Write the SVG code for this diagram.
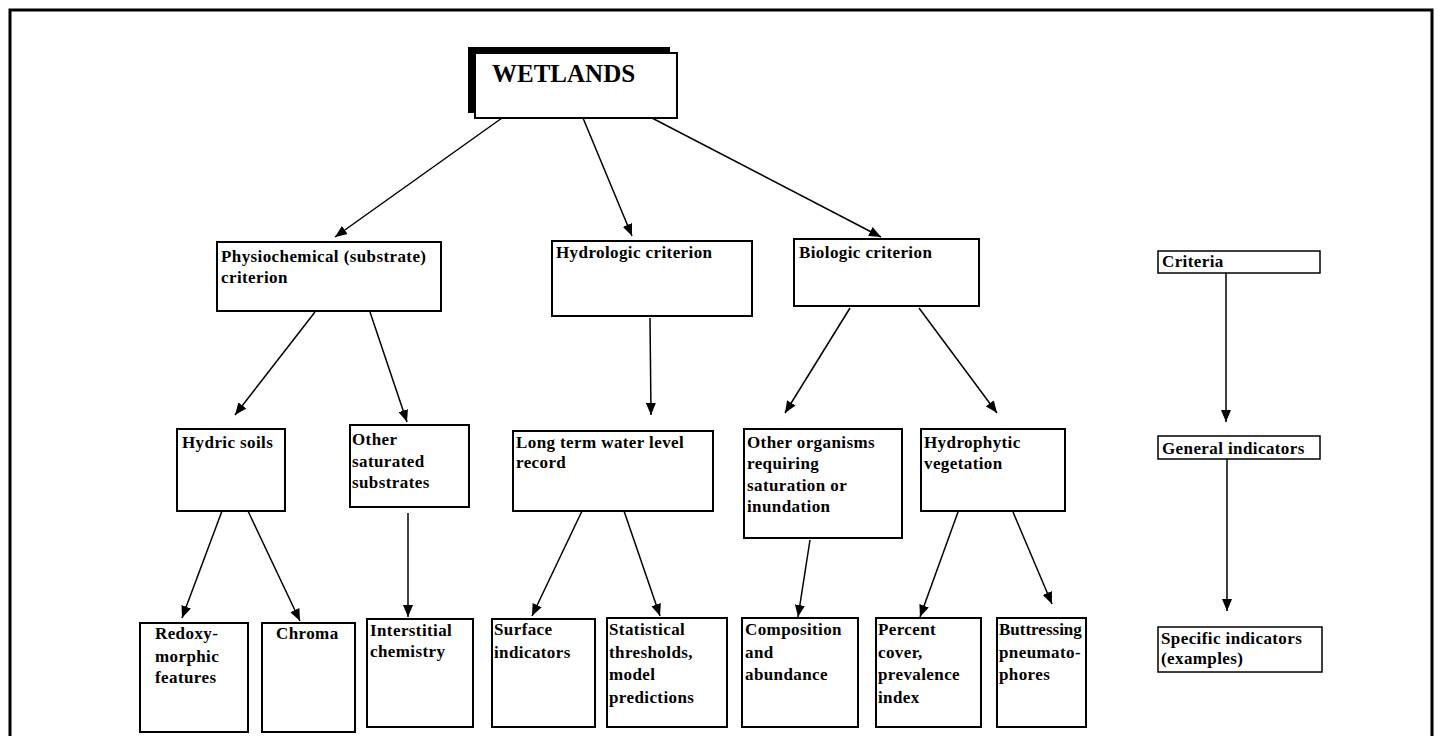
<svg xmlns="http://www.w3.org/2000/svg" width="1442" height="736" viewBox="0 0 1442 736">
<defs>
<marker id="ah" markerUnits="userSpaceOnUse" markerWidth="13" markerHeight="10" refX="12" refY="5" orient="auto">
<path d="M0,0 L12,5 L0,10 z" fill="#000"/>
</marker>
<style>
.box{fill:#fff;stroke:#000;stroke-width:2}
.t{font-family:"Liberation Serif","Times New Roman",serif;font-weight:bold;font-size:17px;letter-spacing:0.4px;fill:#000}
.c line{stroke:#000;stroke-width:1.5;marker-end:url(#ah)}
</style>
</defs>
<rect width="1442" height="736" fill="#fff"/>
<path d="M10,740 V10 H1432 V740" fill="none" stroke="#000" stroke-width="3"/>

<g id="connectors" class="c">
<line x1="502" y1="118" x2="335" y2="237"/>
<line x1="583" y1="118" x2="632" y2="236"/>
<line x1="652" y1="118" x2="881" y2="237"/>
<line x1="315" y1="312" x2="235" y2="415"/>
<line x1="370" y1="312" x2="407" y2="422"/>
<line x1="650" y1="318" x2="651" y2="415"/>
<line x1="850" y1="308" x2="785" y2="413"/>
<line x1="919" y1="308" x2="997" y2="413"/>
<line x1="222" y1="511" x2="182" y2="618"/>
<line x1="248" y1="511" x2="300" y2="621"/>
<line x1="408" y1="513" x2="408" y2="617"/>
<line x1="582" y1="511" x2="532" y2="616"/>
<line x1="624" y1="511" x2="660" y2="616"/>
<line x1="810" y1="540" x2="798" y2="617"/>
<line x1="958" y1="512" x2="920" y2="617"/>
<line x1="1013" y1="512" x2="1052" y2="604"/>
<line x1="1226" y1="273" x2="1226" y2="422"/>
<line x1="1227" y1="459" x2="1227" y2="611"/>
</g>

<g id="wetlands">
<rect x="468" y="47" width="202" height="66" fill="#000"/>
<rect class="box" x="475" y="53" width="202" height="65"/>
<text class="t" x="492" y="82" style="font-size:25px;letter-spacing:0">WETLANDS</text>
</g>

<g id="physiochemical">
<rect class="box" x="217" y="242" width="224" height="69"/>
<text class="t" x="221" y="262">Physiochemical (substrate)</text>
<text class="t" x="221" y="283">criterion</text>
</g>
<g id="hydrologic">
<rect class="box" x="552" y="241" width="200" height="75"/>
<text class="t" x="556" y="258">Hydrologic criterion</text>
</g>
<g id="biologic">
<rect class="box" x="794" y="239" width="185" height="67"/>
<text class="t" x="799" y="258">Biologic criterion</text>
</g>
<g id="criteria">
<rect class="box" x="1158" y="251" width="162" height="22" style="stroke-width:1.5"/>
<text class="t" x="1162" y="267">Criteria</text>
</g>

<g id="hydric-soils">
<rect class="box" x="177" y="429" width="108" height="82"/>
<text class="t" x="182" y="448">Hydric soils</text>
</g>
<g id="other-saturated">
<rect class="box" x="350" y="425" width="119" height="82"/>
<text class="t" x="352" y="445">Other</text>
<text class="t" x="352" y="467">saturated</text>
<text class="t" x="352" y="488">substrates</text>
</g>
<g id="long-term">
<rect class="box" x="513" y="431" width="200" height="80"/>
<text class="t" x="516" y="448">Long term water level</text>
<text class="t" x="516" y="468">record</text>
</g>
<g id="other-organisms">
<rect class="box" x="744" y="429" width="158" height="109"/>
<text class="t" x="747" y="448">Other organisms</text>
<text class="t" x="747" y="469">requiring</text>
<text class="t" x="747" y="491">saturation or</text>
<text class="t" x="747" y="512">inundation</text>
</g>
<g id="hydrophytic">
<rect class="box" x="921" y="429" width="144" height="82"/>
<text class="t" x="924" y="448">Hydrophytic</text>
<text class="t" x="924" y="469">vegetation</text>
</g>
<g id="general">
<rect class="box" x="1158" y="436" width="162" height="23" style="stroke-width:1.5"/>
<text class="t" x="1162" y="454">General indicators</text>
</g>

<g id="redoxy">
<rect class="box" x="140" y="623" width="108" height="109"/>
<text class="t" x="155" y="639">Redoxy-</text>
<text class="t" x="155" y="662">morphic</text>
<text class="t" x="155" y="683">features</text>
</g>
<g id="chroma">
<rect class="box" x="262" y="623" width="93" height="109"/>
<text class="t" x="276" y="639">Chroma</text>
</g>
<g id="interstitial">
<rect class="box" x="367" y="619" width="106" height="108"/>
<text class="t" x="370" y="636">Interstitial</text>
<text class="t" x="370" y="657">chemistry</text>
</g>
<g id="surface">
<rect class="box" x="492" y="619" width="103" height="108"/>
<text class="t" x="494" y="635">Surface</text>
<text class="t" x="494" y="658">indicators</text>
</g>
<g id="statistical">
<rect class="box" x="607" y="618" width="120" height="109"/>
<text class="t" x="609" y="635">Statistical</text>
<text class="t" x="609" y="658">thresholds,</text>
<text class="t" x="609" y="680">model</text>
<text class="t" x="609" y="703">predictions</text>
</g>
<g id="composition">
<rect class="box" x="742" y="618" width="116" height="109"/>
<text class="t" x="745" y="635">Composition</text>
<text class="t" x="745" y="658">and</text>
<text class="t" x="745" y="680">abundance</text>
</g>
<g id="percent">
<rect class="box" x="876" y="618" width="105" height="109"/>
<text class="t" x="878" y="635">Percent</text>
<text class="t" x="878" y="658">cover,</text>
<text class="t" x="878" y="680">prevalence</text>
<text class="t" x="878" y="703">index</text>
</g>
<g id="buttressing">
<rect class="box" x="997" y="618" width="89" height="109"/>
<text class="t" x="999" y="635" style="letter-spacing:0">Buttressing</text>
<text class="t" x="999" y="658">pneumato-</text>
<text class="t" x="999" y="680">phores</text>
</g>
<g id="specific">
<rect class="box" x="1158" y="627" width="164" height="45" style="stroke-width:1.5"/>
<text class="t" x="1161" y="644">Specific indicators</text>
<text class="t" x="1161" y="664">(examples)</text>
</g>
</svg>
